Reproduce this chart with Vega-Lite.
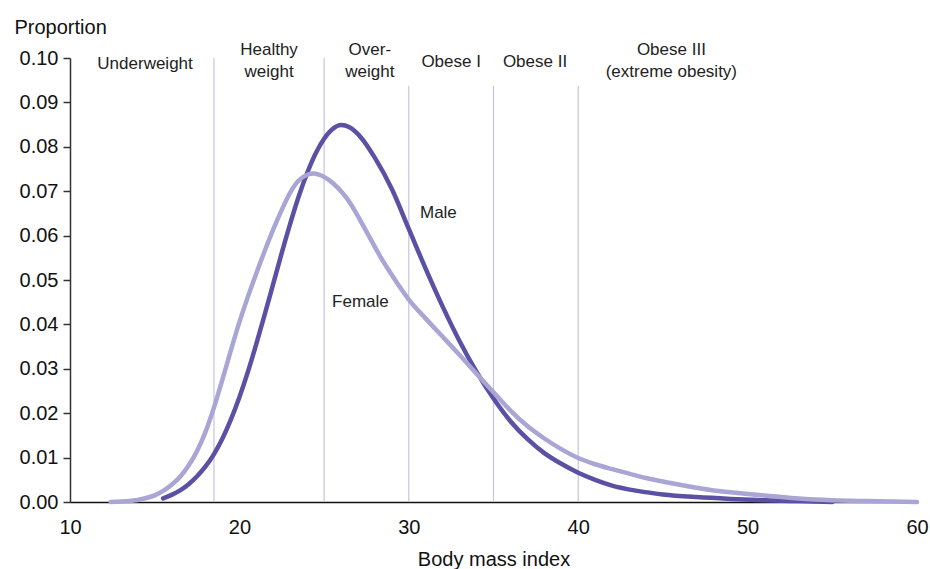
{
  "$schema": "https://vega.github.io/schema/vega-lite/v6.json",
  "width": 847,
  "height": 444,
  "autosize": {"type": "none"},
  "padding": {"left": 70, "top": 58, "right": 13, "bottom": 67},
  "background": "white",
  "config": {
    "view": {"stroke": null},
    "font": "Liberation Sans",
    "axis": {"grid": false, "labelFont": "Liberation Sans", "titleFont": "Liberation Sans", "labelColor": "#111", "titleColor": "#111", "titleFontWeight": "normal"}
  },
  "datasets": {
    "curves": [
      {"bmi": 15.5, "p": 0.0008, "sex": "Male"},
      {"bmi": 16.0, "p": 0.0016, "sex": "Male"},
      {"bmi": 16.5, "p": 0.0026, "sex": "Male"},
      {"bmi": 17.0, "p": 0.004, "sex": "Male"},
      {"bmi": 17.5, "p": 0.0058, "sex": "Male"},
      {"bmi": 18.0, "p": 0.008, "sex": "Male"},
      {"bmi": 18.5, "p": 0.0108, "sex": "Male"},
      {"bmi": 19.0, "p": 0.0143, "sex": "Male"},
      {"bmi": 19.5, "p": 0.0186, "sex": "Male"},
      {"bmi": 20.0, "p": 0.0236, "sex": "Male"},
      {"bmi": 20.5, "p": 0.0293, "sex": "Male"},
      {"bmi": 21.0, "p": 0.0356, "sex": "Male"},
      {"bmi": 21.5, "p": 0.0423, "sex": "Male"},
      {"bmi": 22.0, "p": 0.0492, "sex": "Male"},
      {"bmi": 22.5, "p": 0.0561, "sex": "Male"},
      {"bmi": 23.0, "p": 0.0627, "sex": "Male"},
      {"bmi": 23.5, "p": 0.0688, "sex": "Male"},
      {"bmi": 24.0, "p": 0.0741, "sex": "Male"},
      {"bmi": 24.5, "p": 0.0785, "sex": "Male"},
      {"bmi": 25.0, "p": 0.0818, "sex": "Male"},
      {"bmi": 25.5, "p": 0.084, "sex": "Male"},
      {"bmi": 26.0, "p": 0.0849, "sex": "Male"},
      {"bmi": 26.5, "p": 0.0844, "sex": "Male"},
      {"bmi": 27.2, "p": 0.082, "sex": "Male"},
      {"bmi": 28.0, "p": 0.0775, "sex": "Male"},
      {"bmi": 29.0, "p": 0.0705, "sex": "Male"},
      {"bmi": 30.0, "p": 0.0615, "sex": "Male"},
      {"bmi": 31.0, "p": 0.0525, "sex": "Male"},
      {"bmi": 32.0, "p": 0.044, "sex": "Male"},
      {"bmi": 33.0, "p": 0.0362, "sex": "Male"},
      {"bmi": 34.0, "p": 0.0293, "sex": "Male"},
      {"bmi": 35.0, "p": 0.0233, "sex": "Male"},
      {"bmi": 36.0, "p": 0.0182, "sex": "Male"},
      {"bmi": 37.0, "p": 0.0142, "sex": "Male"},
      {"bmi": 38.0, "p": 0.011, "sex": "Male"},
      {"bmi": 39.0, "p": 0.0086, "sex": "Male"},
      {"bmi": 40.0, "p": 0.0066, "sex": "Male"},
      {"bmi": 41.0, "p": 0.005, "sex": "Male"},
      {"bmi": 42.0, "p": 0.0037, "sex": "Male"},
      {"bmi": 43.5, "p": 0.0025, "sex": "Male"},
      {"bmi": 45.0, "p": 0.0017, "sex": "Male"},
      {"bmi": 47.0, "p": 0.0011, "sex": "Male"},
      {"bmi": 49.0, "p": 0.0007, "sex": "Male"},
      {"bmi": 51.0, "p": 0.0004, "sex": "Male"},
      {"bmi": 53.0, "p": 0.0002, "sex": "Male"},
      {"bmi": 55.0, "p": 0.0, "sex": "Male"},
      {"bmi": 12.4, "p": 0.0, "sex": "Female"},
      {"bmi": 13.5, "p": 0.0002, "sex": "Female"},
      {"bmi": 14.5, "p": 0.0009, "sex": "Female"},
      {"bmi": 15.0, "p": 0.0015, "sex": "Female"},
      {"bmi": 15.5, "p": 0.0025, "sex": "Female"},
      {"bmi": 16.0, "p": 0.0039, "sex": "Female"},
      {"bmi": 16.5, "p": 0.0057, "sex": "Female"},
      {"bmi": 17.0, "p": 0.0082, "sex": "Female"},
      {"bmi": 17.5, "p": 0.0115, "sex": "Female"},
      {"bmi": 18.0, "p": 0.0158, "sex": "Female"},
      {"bmi": 18.5, "p": 0.0213, "sex": "Female"},
      {"bmi": 19.0, "p": 0.0276, "sex": "Female"},
      {"bmi": 19.5, "p": 0.0342, "sex": "Female"},
      {"bmi": 20.0, "p": 0.0405, "sex": "Female"},
      {"bmi": 20.5, "p": 0.0462, "sex": "Female"},
      {"bmi": 21.0, "p": 0.0515, "sex": "Female"},
      {"bmi": 21.5, "p": 0.0566, "sex": "Female"},
      {"bmi": 22.0, "p": 0.0614, "sex": "Female"},
      {"bmi": 22.5, "p": 0.0658, "sex": "Female"},
      {"bmi": 23.0, "p": 0.0697, "sex": "Female"},
      {"bmi": 23.5, "p": 0.0724, "sex": "Female"},
      {"bmi": 24.0, "p": 0.0737, "sex": "Female"},
      {"bmi": 24.4, "p": 0.074, "sex": "Female"},
      {"bmi": 24.8, "p": 0.0736, "sex": "Female"},
      {"bmi": 25.3, "p": 0.0725, "sex": "Female"},
      {"bmi": 25.8, "p": 0.0708, "sex": "Female"},
      {"bmi": 26.3, "p": 0.0686, "sex": "Female"},
      {"bmi": 26.8, "p": 0.0657, "sex": "Female"},
      {"bmi": 27.3, "p": 0.0623, "sex": "Female"},
      {"bmi": 27.8, "p": 0.0588, "sex": "Female"},
      {"bmi": 28.3, "p": 0.0554, "sex": "Female"},
      {"bmi": 28.8, "p": 0.0523, "sex": "Female"},
      {"bmi": 29.4, "p": 0.0488, "sex": "Female"},
      {"bmi": 30.0, "p": 0.0456, "sex": "Female"},
      {"bmi": 31.0, "p": 0.0413, "sex": "Female"},
      {"bmi": 32.0, "p": 0.0372, "sex": "Female"},
      {"bmi": 33.0, "p": 0.0331, "sex": "Female"},
      {"bmi": 34.0, "p": 0.0289, "sex": "Female"},
      {"bmi": 35.0, "p": 0.0247, "sex": "Female"},
      {"bmi": 36.0, "p": 0.0206, "sex": "Female"},
      {"bmi": 37.0, "p": 0.0171, "sex": "Female"},
      {"bmi": 38.0, "p": 0.0143, "sex": "Female"},
      {"bmi": 39.0, "p": 0.0119, "sex": "Female"},
      {"bmi": 40.0, "p": 0.0099, "sex": "Female"},
      {"bmi": 41.0, "p": 0.0085, "sex": "Female"},
      {"bmi": 42.0, "p": 0.0074, "sex": "Female"},
      {"bmi": 43.0, "p": 0.0064, "sex": "Female"},
      {"bmi": 44.0, "p": 0.0054, "sex": "Female"},
      {"bmi": 45.0, "p": 0.0046, "sex": "Female"},
      {"bmi": 46.0, "p": 0.0039, "sex": "Female"},
      {"bmi": 47.0, "p": 0.0032, "sex": "Female"},
      {"bmi": 48.0, "p": 0.0026, "sex": "Female"},
      {"bmi": 49.0, "p": 0.0022, "sex": "Female"},
      {"bmi": 50.0, "p": 0.0018, "sex": "Female"},
      {"bmi": 51.5, "p": 0.0013, "sex": "Female"},
      {"bmi": 53.0, "p": 0.0008, "sex": "Female"},
      {"bmi": 55.0, "p": 0.0004, "sex": "Female"},
      {"bmi": 57.0, "p": 0.0002, "sex": "Female"},
      {"bmi": 60.0, "p": 0.0, "sex": "Female"}
    ],
    "cuts": [
      {"bmi": 18.5, "top": 0.1},
      {"bmi": 25, "top": 0.1},
      {"bmi": 30, "top": 0.0937},
      {"bmi": 35, "top": 0.0937},
      {"bmi": 40, "top": 0.0937}
    ],
    "bands": [
      {"bmi": 14.43, "p": 0.0987, "label": "Underweight"},
      {"bmi": 21.75, "p": 0.1018, "label": "Healthy\nweight"},
      {"bmi": 27.7, "p": 0.1018, "label": "Over-\nweight"},
      {"bmi": 32.5, "p": 0.0991, "label": "Obese I"},
      {"bmi": 37.45, "p": 0.0991, "label": "Obese II"},
      {"bmi": 45.5, "p": 0.1018, "label": "Obese III\n(extreme  obesity)"}
    ],
    "notes": [
      {"bmi": 30.66, "p": 0.0651, "label": "Male"},
      {"bmi": 25.47, "p": 0.045, "label": "Female"}
    ]
  },
  "layer": [
    {
      "data": {"name": "cuts"},
      "mark": {"type": "rule", "color": "#c6c3e0", "strokeWidth": 1.2},
      "encoding": {
        "x": {"field": "bmi", "type": "quantitative", "scale": {"domain": [10, 60], "nice": false}},
        "y": {"field": "top", "type": "quantitative"},
        "y2": {"datum": 0}
      }
    },
    {
      "data": {"name": "curves"},
      "mark": {"type": "line", "interpolate": "monotone", "strokeWidth": 4.5, "strokeCap": "round"},
      "encoding": {
        "x": {
          "field": "bmi", "type": "quantitative",
          "scale": {"domain": [10, 60], "nice": false},
          "axis": {"values": [10, 20, 30, 40, 50, 60], "ticks": false, "labelFlush": false, "domainColor": "#111", "domainWidth": 1.5, "labelFontSize": 20, "labelPadding": 15, "title": "Body mass index", "titleFontSize": 20, "titlePadding": 12}
        },
        "y": {
          "field": "p", "type": "quantitative",
          "scale": {"domain": [0, 0.1], "nice": false},
          "axis": {"values": [0, 0.01, 0.02, 0.03, 0.04, 0.05, 0.06, 0.07, 0.08, 0.09, 0.1], "format": ".2f", "domainColor": "#333", "domainWidth": 1.5, "tickColor": "#333", "tickWidth": 1.5, "tickSize": 7, "labelFontSize": 20, "labelPadding": 5, "labelFlush": false, "title": "Proportion", "titleFontSize": 20, "titleAngle": 0, "titleAlign": "left", "titleBaseline": "middle", "titleX": -56, "titleY": -31}
        },
        "color": {"field": "sex", "type": "nominal", "scale": {"domain": ["Male", "Female"], "range": ["#5a51a4", "#a9a5d4"]}, "legend": null}
      }
    },
    {
      "data": {"name": "bands"},
      "mark": {"type": "text", "fontSize": 17, "color": "#222", "align": "center", "baseline": "middle", "lineBreak": "\n", "lineHeight": 22},
      "encoding": {
        "x": {"field": "bmi", "type": "quantitative"},
        "y": {"field": "p", "type": "quantitative"},
        "text": {"field": "label"}
      }
    },
    {
      "data": {"name": "notes"},
      "mark": {"type": "text", "fontSize": 17, "color": "#222", "align": "left", "baseline": "middle"},
      "encoding": {
        "x": {"field": "bmi", "type": "quantitative"},
        "y": {"field": "p", "type": "quantitative"},
        "text": {"field": "label"}
      }
    }
  ]
}
